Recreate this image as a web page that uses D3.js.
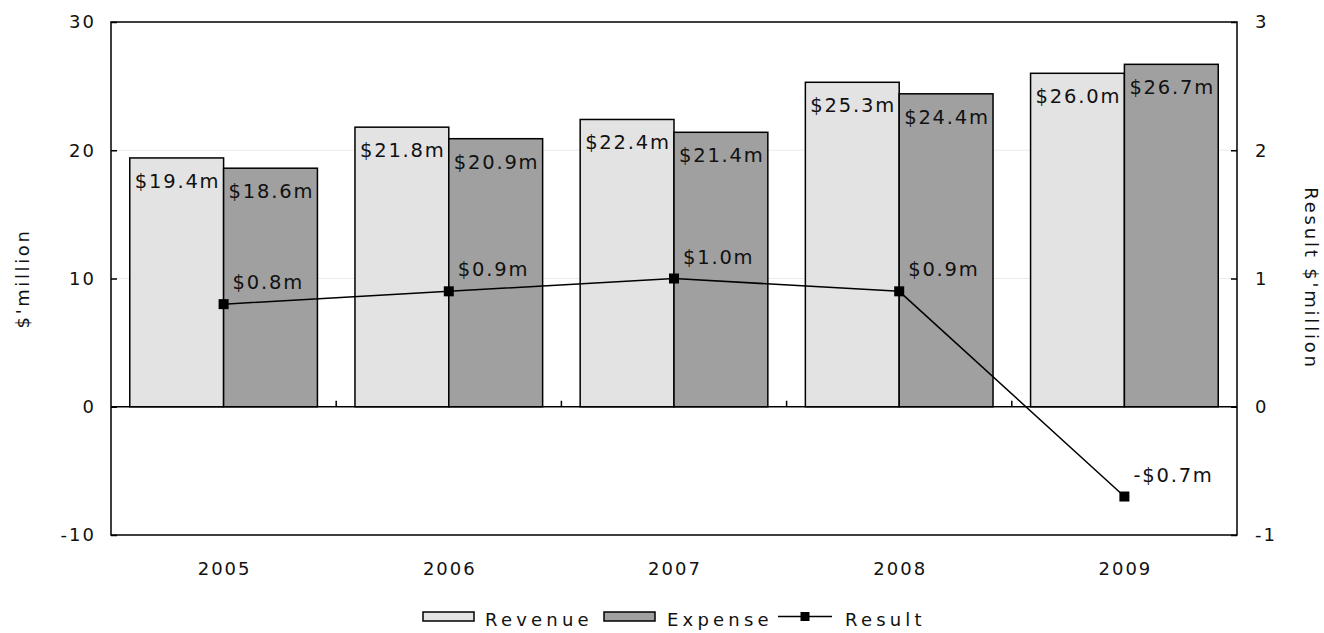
<!DOCTYPE html>
<html>
<head>
<meta charset="utf-8">
<script src="https://cdn.jsdelivr.net/npm/d3@7"></script>
<style>
  html, body { margin: 0; padding: 0; background: #fff; }
  svg text { font-family: "DejaVu Sans", Verdana, sans-serif; fill: #111; }
</style>
</head>
<body>
<svg id="chart" width="1324" height="633"></svg>
<script>
// Annual figures, $ million
const years   = ["2005", "2006", "2007", "2008", "2009"];
const revenue = [19.4, 21.8, 22.4, 25.3, 26.0];
const expense = [18.6, 20.9, 21.4, 24.4, 26.7];
const result  = [0.8, 0.9, 1.0, 0.9, -0.7];

const leftTicks  = [-10, 0, 10, 20, 30];
const rightTicks = [-1, 0, 1, 2, 3];
const gridTicks  = [10, 20];
const seriesNames = ["Revenue", "Expense"];

const fmt = v => (v < 0 ? "-" : "") + "$" + Math.abs(v).toFixed(1) + "m";
const intFmt = v => String(v);

const svg = d3.select("#chart");
const plot = { left: 111, right: 1237, top: 22, bottom: 535 };

const x = d3.scaleBand().domain(years).range([plot.left, plot.right]).padding(0);
const xs = d3.scaleBand().domain(seriesNames).range([0, x.bandwidth()]).paddingInner(0).paddingOuter(0.2);
const y  = d3.scaleLinear().domain([-10, 30]).range([plot.bottom, plot.top]);
const y2 = d3.scaleLinear().domain([-1, 3]).range([plot.bottom, plot.top]);

const fill = { Revenue: "#e3e3e3", Expense: "#a0a0a0" };
const rows = years.map((yr, i) => ({ year: yr, Revenue: revenue[i], Expense: expense[i], Result: result[i] }));

const LABEL_FS = "19.5px", LABEL_LS = 1.8;
const AXIS_FS = "18px", AXIS_LS = 2;

// light gridlines
svg.append("g").selectAll("line").data(gridTicks).join("line")
  .attr("x1", plot.left).attr("x2", plot.right)
  .attr("y1", d => y(d)).attr("y2", d => y(d))
  .attr("stroke", "#ebebeb").attr("stroke-width", 1);

// bars
const groups = svg.append("g").selectAll("g").data(rows).join("g")
  .attr("transform", d => `translate(${x(d.year)},0)`);

groups.selectAll("rect").data(d => seriesNames.map(s => ({ s, v: d[s] }))).join("rect")
  .attr("x", d => xs(d.s)).attr("width", xs.bandwidth())
  .attr("y", d => y(Math.max(0, d.v)))
  .attr("height", d => Math.abs(y(d.v) - y(0)))
  .attr("fill", d => fill[d.s])
  .attr("stroke", "#000").attr("stroke-width", 1.5);

groups.selectAll("text.bl").data(d => seriesNames.map(s => ({ s, v: d[s] }))).join("text")
  .attr("class", "bl")
  .attr("x", d => xs(d.s) + xs.bandwidth() / 2 + LABEL_LS / 2)
  .attr("y", d => y(d.v) + 30)
  .attr("text-anchor", "middle")
  .style("font-size", LABEL_FS).style("letter-spacing", LABEL_LS + "px")
  .text(d => fmt(d.v));

// zero line
svg.append("line")
  .attr("x1", plot.left).attr("x2", plot.right)
  .attr("y1", y(0)).attr("y2", y(0))
  .attr("stroke", "#000").attr("stroke-width", 1.5);

// category boundary ticks on the zero line
svg.append("g").selectAll("line").data(years.slice(1)).join("line")
  .attr("x1", d => x(d)).attr("x2", d => x(d))
  .attr("y1", y(0)).attr("y2", y(0) - 6)
  .attr("stroke", "#000").attr("stroke-width", 1.5);

// plot border
svg.append("rect")
  .attr("x", plot.left).attr("y", plot.top)
  .attr("width", plot.right - plot.left).attr("height", plot.bottom - plot.top)
  .attr("fill", "none").attr("stroke", "#000").attr("stroke-width", 1.5);

// left axis
const axL = svg.append("g").attr("transform", `translate(${plot.left},0)`)
  .call(d3.axisLeft(y).tickValues(leftTicks).tickFormat(intFmt)
    .tickSizeInner(-6).tickSizeOuter(0).tickPadding(15));
// right axis
const axR = svg.append("g").attr("transform", `translate(${plot.right},0)`)
  .call(d3.axisRight(y2).tickValues(rightTicks).tickFormat(intFmt)
    .tickSizeInner(-6).tickSizeOuter(0).tickPadding(18));
// category labels
const axB = svg.append("g").attr("transform", `translate(0,${plot.bottom})`)
  .call(d3.axisBottom(x).tickSize(0).tickPadding(27));

[axL, axR, axB].forEach(a => {
  a.select(".domain").remove();
  a.selectAll(".tick line").attr("stroke", "#000").attr("stroke-width", 1.5);
  a.selectAll("text").attr("font-family", null).attr("font-size", null)
    .style("font-size", AXIS_FS).style("letter-spacing", AXIS_LS + "px").style("fill", "#111");
});
axB.selectAll("text").attr("dx", AXIS_LS / 2);

// axis titles
svg.append("text")
  .attr("transform", `translate(29,${(plot.top + plot.bottom) / 2}) rotate(-90)`)
  .attr("text-anchor", "middle")
  .style("font-size", AXIS_FS).style("letter-spacing", "2.6px")
  .text("$'million");
svg.append("text")
  .attr("transform", `translate(1305,${(plot.top + plot.bottom) / 2}) rotate(90)`)
  .attr("text-anchor", "middle")
  .style("font-size", AXIS_FS).style("letter-spacing", "2.8px")
  .text("Result $'million");

// result line
const cx = d => x(d.year) + x.bandwidth() / 2;
svg.append("path").datum(rows)
  .attr("d", d3.line().x(cx).y(d => y2(d.Result)))
  .attr("fill", "none").attr("stroke", "#000").attr("stroke-width", 1.5);

svg.append("g").selectAll("rect").data(rows).join("rect")
  .attr("x", d => cx(d) - 5).attr("y", d => y2(d.Result) - 5)
  .attr("width", 10).attr("height", 10).attr("fill", "#000");

svg.append("g").selectAll("text").data(rows).join("text")
  .attr("x", d => cx(d) + 9).attr("y", d => y2(d.Result) - 15)
  .style("font-size", LABEL_FS).style("letter-spacing", LABEL_LS + "px")
  .text(d => fmt(d.Result));

// legend
const lg = svg.append("g");
const legendY = 612;
const items = [
  { name: "Revenue", type: "bar",  x: 423, tx: 485 },
  { name: "Expense", type: "bar",  x: 604, tx: 667 },
  { name: "Result",  type: "line", x: 778, tx: 845 }
];
items.forEach(it => {
  if (it.type === "bar") {
    lg.append("rect").attr("x", it.x).attr("y", legendY)
      .attr("width", 51).attr("height", 9)
      .attr("fill", fill[it.name]).attr("stroke", "#000").attr("stroke-width", 1.5);
  } else {
    lg.append("line").attr("x1", it.x).attr("x2", it.x + 54)
      .attr("y1", legendY + 4.5).attr("y2", legendY + 4.5)
      .attr("stroke", "#000").attr("stroke-width", 1.5);
    lg.append("rect").attr("x", it.x + 22.5).attr("y", legendY)
      .attr("width", 9).attr("height", 9).attr("fill", "#000");
  }
  lg.append("text").attr("x", it.tx).attr("y", legendY + 14)
    .style("font-size", AXIS_FS).style("letter-spacing", "4.2px").text(it.name);
});
</script>
</body>
</html>
